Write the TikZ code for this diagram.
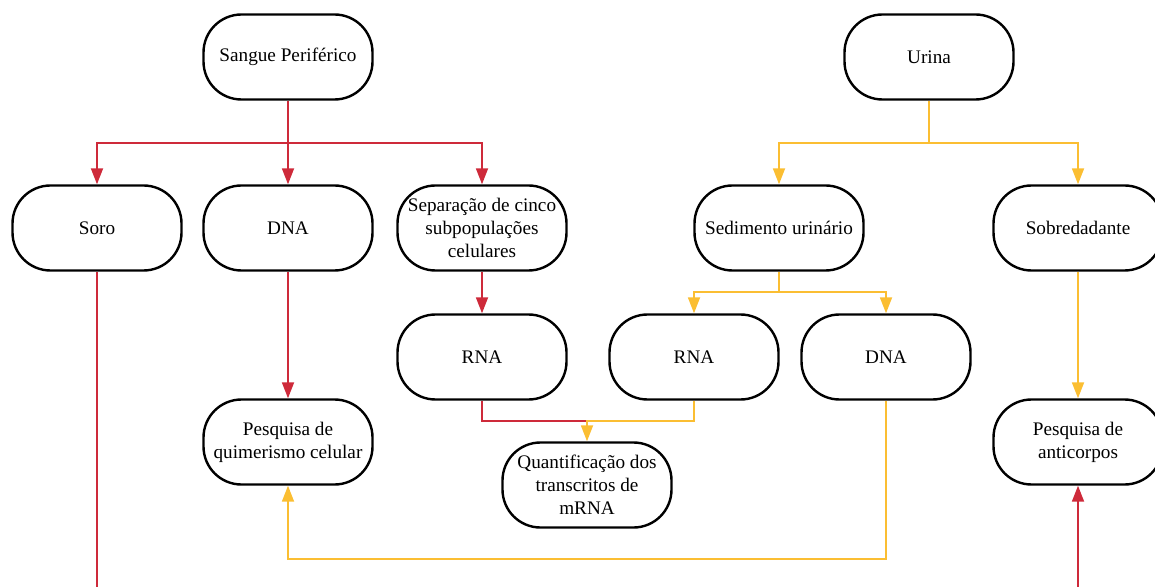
\documentclass[tikz,border=0pt]{standalone}
\usepackage{fontspec}
\setmainfont{Liberation Serif}
\usetikzlibrary{arrows.meta}
\definecolor{cred}{RGB}{206,42,58}
\definecolor{cyel}{RGB}{251,190,50}
\tikzset{
  box/.style={draw=black, line width=1.2pt, rounded corners=19pt, minimum width=84.5pt, minimum height=42.5pt, align=center, inner sep=2pt, font=\fontsize{9.6}{11.4}\selectfont, fill=white},
  rline/.style={draw=cred, line width=0.9pt},
  yline/.style={draw=cyel, line width=0.9pt},
  tip/.style={-{Triangle[length=8pt,width=6pt]}}
}
\begin{document}
\begin{tikzpicture}[x=0.5pt,y=-0.5pt]
\useasboundingbox (0,0) rectangle (1155,587);
\clip (0,0) rectangle (1155,587);
% nodes
\node[box] (sp) at (288,57) {Sangue Periférico};
\node[box] (ur) at (929,57) {Urina};
\node[box] (soro) at (97,228) {Soro};
\node[box] (dna1) at (288,228) {DNA};
\node[box] (sep) at (482,228) {Separação de cinco\\subpopulações\\celulares};
\node[box] (sed) at (779,228) {Sedimento urinário};
\node[box] (sob) at (1078,228) {Sobredadante};
\node[box] (rna1) at (482,357) {RNA};
\node[box] (rna2) at (694,357) {RNA};
\node[box] (dna2) at (886,357) {DNA};
\node[box] (quim) at (288,442) {Pesquisa de\\quimerismo celular};
\node[box] (anti) at (1078,442) {Pesquisa de\\anticorpos};
\node[box] (quant) at (587,485) {Quantificação dos\\transcritos de\\mRNA};
% junctions
\coordinate (j1) at (288,143);
\coordinate (j2) at (929,143);
\coordinate (j3) at (779,292);
\coordinate (j4) at (587,421);
\coordinate (j5) at (886,559);
\coordinate (j6) at (288,559);
\coordinate (b1) at (97,640);
\coordinate (b2) at (1078,640);
% red connectors
\draw[rline] (sp.south) -- (j1);
\draw[rline,tip] (j1) -| (soro.north);
\draw[rline,tip] (j1) -- (dna1.north);
\draw[rline,tip] (j1) -| (sep.north);
\draw[rline,tip] (dna1.south) -- (quim.north);
\draw[rline,tip] (sep.south) -- (rna1.north);
\draw[rline] (rna1.south) |- (j4);
\draw[rline,tip] (soro.south) -- (b1) -- (b2) -- (anti.south);
% yellow connectors
\draw[yline] (ur.south) -- (j2);
\draw[yline,tip] (j2) -| (sed.north);
\draw[yline,tip] (j2) -| (sob.north);
\draw[yline] (sed.south) -- (j3);
\draw[yline,tip] (j3) -| (rna2.north);
\draw[yline,tip] (j3) -| (dna2.north);
\draw[yline,tip] (sob.south) -- (anti.north);
\draw[yline,tip] (rna2.south) |- (j4) -- (quant.north);
\draw[yline,tip] (dna2.south) -- (j5) -- (j6) -- (quim.south);
\end{tikzpicture}
\end{document}
